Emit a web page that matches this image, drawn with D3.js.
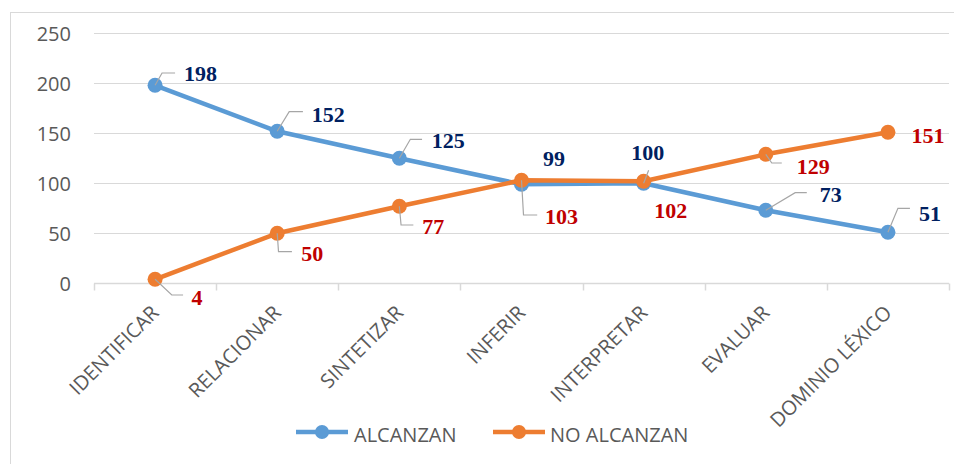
<!DOCTYPE html>
<html>
<head>
<meta charset="utf-8">
<script src="https://cdn.jsdelivr.net/npm/d3@7"></script>
<style>
  html, body { margin: 0; padding: 0; background: #fff; }
  svg { display: block; }
</style>
</head>
<body>
<svg id="chart" width="954" height="464"></svg>
<script>
// ---- Data ----
const categories = ["IDENTIFICAR", "RELACIONAR", "SINTETIZAR", "INFERIR", "INTERPRETAR", "EVALUAR", "DOMINIO LÉXICO"];
const alcanzan = [198, 152, 125, 99, 100, 73, 51];
const noAlcanzan = [4, 50, 77, 103, 102, 129, 151];
const seriesNames = ["ALCANZAN", "NO ALCANZAN"];
const yTicks = [0, 50, 100, 150, 200, 250];

// ---- Layout (label placement, not data) ----
const labelOffA = [[45.5,-12.3],[51,-17.3],[49,-18.3],[32.5,-26.3],[4,-31.3],[65,-16.3],[42,-19.3]];
const leaderA = [[7,-12.3,20],[12,-19.6,25.7],[11,-19,22.7],null,[5,-13,5],[29.4,-17.6,41],[10,-24,22]];
const labelOffN = [[42,17.7],[35,19.7],[34,19.7],[40,35.7],[27,28.7],[47.4,11.7],[40,2.7]];
const leaderN = [[16.7,15.7,28],[1.3,18.4,14.7],[1.7,18.7,14],[2,34.7,15.7],null,[6,8.7,16],null];

const colors = ["#5B9BD5", "#ED7D31"];
const labelColors = ["#002060", "#C00000"];
const textGray = "#595959";
const gridGray = "#D9D9D9";

const svg = d3.select("#chart");

// outer border
svg.append("rect").attr("x", 10.5).attr("y", 12.5).attr("width", 980).attr("height", 480)
  .attr("fill", "none").attr("stroke", "#D9D9D9").attr("stroke-width", 1);

const x = d3.scaleBand().domain(categories).range([94, 949]);
const y = d3.scaleLinear().domain([0, 250]).range([283.3, 33.3]);

// gridlines
svg.append("g").selectAll("line").data(yTicks.filter(d => d > 0)).join("line")
  .attr("x1", 94).attr("x2", 949)
  .attr("y1", d => Math.round(y(d)) + 0.5).attr("y2", d => Math.round(y(d)) + 0.5)
  .attr("stroke", gridGray).attr("stroke-width", 1);

// y axis labels
const yAxis = d3.axisLeft(y).tickValues(yTicks).tickSize(0).tickPadding(0);
const gy = svg.append("g").attr("transform", "translate(71,0)").call(yAxis);
gy.select(".domain").remove();
gy.selectAll("text").attr("font-family", "'Open Sans', sans-serif").attr("font-size", 20)
  .attr("fill", textGray).attr("dy", "0.36em").attr("x", 0);

// x axis
const y0 = Math.round(y(0)) + 0.5;
svg.append("line").attr("x1", 94).attr("x2", 949).attr("y1", y0).attr("y2", y0)
  .attr("stroke", gridGray).attr("stroke-width", 1.5);
const bounds = categories.map(c => x(c)).concat([x.range()[1]]);
svg.append("g").selectAll("line").data(bounds).join("line")
  .attr("x1", d => Math.round(d) + 0.5).attr("x2", d => Math.round(d) + 0.5)
  .attr("y1", y0).attr("y2", y0 + 7)
  .attr("stroke", gridGray).attr("stroke-width", 1.5);

const cx = c => x(c) + x.bandwidth() / 2;
svg.append("g").selectAll("text").data(categories).join("text")
  .attr("transform", d => `translate(${cx(d) + 5},314) rotate(-45)`)
  .attr("text-anchor", "end")
  .attr("font-family", "'Open Sans', sans-serif").attr("font-size", 20)
  .attr("fill", textGray).text(d => d);

// series
const series = [alcanzan, noAlcanzan];
const line = d3.line().x((d, i) => cx(categories[i])).y(d => y(d));
series.forEach((vals, s) => {
  const g = svg.append("g");
  g.append("path").datum(vals).attr("d", line).attr("fill", "none")
    .attr("stroke", colors[s]).attr("stroke-width", 4.5).attr("stroke-linejoin", "round");
  g.selectAll("circle").data(vals).join("circle")
    .attr("cx", (d, i) => cx(categories[i])).attr("cy", d => y(d)).attr("r", 7.5)
    .attr("fill", colors[s]);
});

// leader lines and labels
const leaders = [leaderA, leaderN];
const offs = [labelOffA, labelOffN];
series.forEach((vals, s) => {
  const g = svg.append("g");
  vals.forEach((v, i) => {
    const px = cx(categories[i]), py = y(v);
    const L = leaders[s][i];
    if (L) {
      g.append("path")
        .attr("d", `M${px},${py}L${px + L[0]},${py + L[1]}L${px + L[2]},${py + L[1]}`)
        .attr("fill", "none").attr("stroke", "#A6A6A6").attr("stroke-width", 1.2);
    }
    const o = offs[s][i];
    g.append("text").attr("x", px + o[0]).attr("y", py + o[1])
      .attr("dy", "0.35em").attr("text-anchor", "middle")
      .attr("font-family", "'Liberation Serif', 'Times New Roman', serif")
      .attr("font-weight", "bold").attr("font-size", 22)
      .attr("fill", labelColors[s]).text(v);
  });
});

// legend
const legend = [
  { name: seriesNames[0], color: colors[0], x1: 296, x2: 348, tx: 354 },
  { name: seriesNames[1], color: colors[1], x1: 493, x2: 545, tx: 550 }
];
const lg = svg.append("g");
legend.forEach(l => {
  lg.append("line").attr("x1", l.x1).attr("x2", l.x2).attr("y1", 432).attr("y2", 432)
    .attr("stroke", l.color).attr("stroke-width", 4.5);
  lg.append("circle").attr("cx", (l.x1 + l.x2) / 2).attr("cy", 432).attr("r", 7).attr("fill", l.color);
  lg.append("text").attr("x", l.tx).attr("y", 442)
    .attr("font-family", "'Open Sans', sans-serif").attr("font-size", 20)
    .attr("fill", textGray).text(l.name);
});
</script>
</body>
</html>
